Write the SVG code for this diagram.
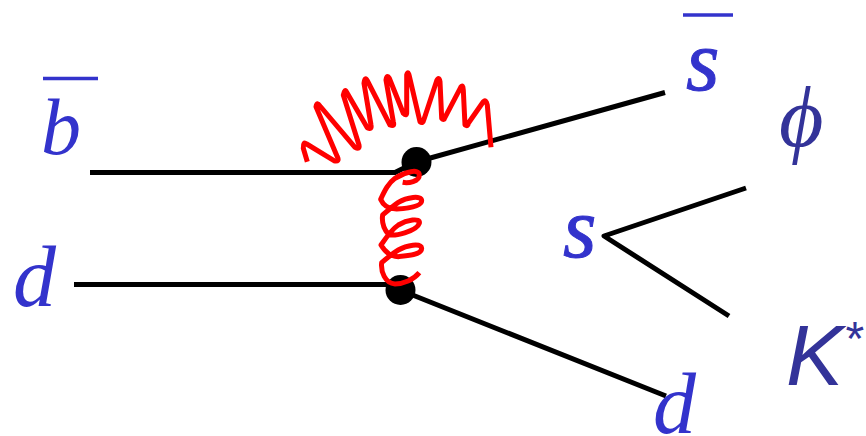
<svg xmlns="http://www.w3.org/2000/svg" width="866" height="436" viewBox="0 0 866 436">
<style>
.l{fill:none;stroke:#000;stroke-width:5;stroke-linejoin:round}
.g{fill:none;stroke:#f00;stroke-linecap:butt;stroke-linejoin:round}
.s{stroke:#3333cc;stroke-width:1}
.bar{stroke:#3333cc;stroke-width:3.500;fill:none}
</style>
<rect width="866" height="436" fill="#fff"/>
<g id="connectors">
<path class="l" d="M90 172.500H395L416 162L665 92.500"/>
<path class="l" d="M74 284.500H395L400 290L666 396"/>
<path class="l" d="M746 188L604 236L729 316"/>
</g>
<g id="vertex-top"><circle cx="416.500" cy="162" r="15"/></g>
<g id="vertex-bottom"><circle cx="400.500" cy="290" r="15"/></g>
<g id="gluon-arc">
<path class="g" stroke-width="5" d="M307.300 161.700L303.300 148.300Q303 141 306.700 144L334 160.700Q340 162 337.300 156.700L316 106.700Q317 101 320 106L355 147.300Q360 150 359 145L343.300 95Q345 88 346.700 92.300L367.300 127.700Q372 130 371 125L364 83.300Q365 76 367.300 80.700L390 125Q395 127 393.300 121.700L386 80Q387 74 389.300 78.300L403.300 113.300Q407 117 406.700 111.700L406.700 75Q408 70 409.300 76L420 121.700Q423 124 424 119.300L436.700 80.700Q439 76 440 81.700L441.700 118.300Q444 121 445 117.300L460.700 87.300Q463 84 463.300 90L465 125Q468 127 468.300 123.300L483.300 101.700Q486 99 487.300 105L491 147.300"/>
</g>
<g id="gluon-coil" transform="translate(360 140) scale(.3333)">
<path class="g" stroke-width="15" d="M128 127C145 130 178 125 178 105C178 85 135 95 105 115C85 130 75 150 62 178C70 195 80 205 110 207C140 205 185 200 185 182C185 165 140 172 115 187C100 197 85 210 68 225C65 245 70 265 85 283C100 290 170 275 178 250C182 232 140 240 115 255C95 268 80 290 63 315C75 335 90 350 115 350C140 348 185 345 185 325C183 308 140 315 115 330C95 342 80 355 65 368C62 395 75 430 105 432C130 432 160 420 178 398"/>
</g>
<g id="label-b"><text x="41" y="154" font-family="Liberation Serif, serif" font-style="italic" font-size="80" fill="#3333cc">b</text><path class="bar" d="M43 78.500H98"/></g>
<g id="label-d-left"><text x="13" y="306" font-family="Liberation Serif, serif" font-style="italic" font-size="86" fill="#3333cc">d</text></g>
<g id="label-s-bar"><text class="s" x="686" y="90" font-family="Liberation Serif, serif" font-style="italic" font-size="86" fill="#3333cc">s</text><path class="bar" d="M683 15H733"/></g>
<g id="label-s"><text class="s" x="563" y="257" font-family="Liberation Serif, serif" font-style="italic" font-size="86" fill="#3333cc">s</text></g>
<g id="label-d-right"><text x="653" y="433" font-family="Liberation Serif, serif" font-style="italic" font-size="86" fill="#3333cc">d</text></g>
<g id="label-phi"><text x="779" y="146" font-family="Liberation Serif, serif" font-style="italic" font-size="86" fill="#333399">ϕ</text></g>
<g id="label-kstar"><text x="786" y="385" font-family="Liberation Sans, sans-serif" font-style="italic" font-size="86" fill="#333399">K<tspan font-size="48" dy="-30">*</tspan></text></g>
</svg>
